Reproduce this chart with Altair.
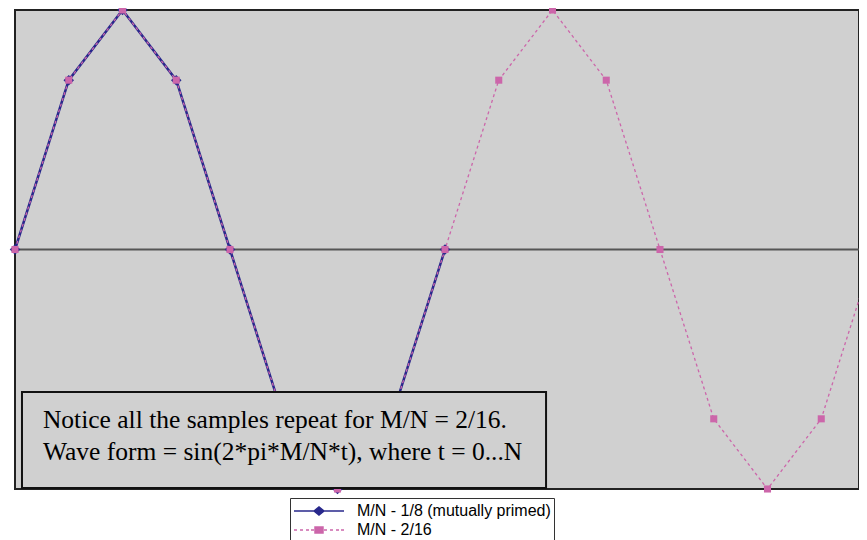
import altair as alt
import pandas as pd

# ---- data ----
t1 = [0, 1, 2, 3, 4, 5, 6, 7, 8]
v1 = [0.0, 0.707, 1.0, 0.707, 0.0, -0.707, -1.0, -0.707, 0.0]
t2 = [0, 1, 2, 3, 4, 5, 6, 7, 8, 9, 10, 11, 12, 13, 14, 15, 16]
v2 = [0.0, 0.707, 1.0, 0.707, 0.0, -0.707, -1.0, -0.707, 0.0,
      0.707, 1.0, 0.707, 0.0, -0.707, -1.0, -0.707, 0.0]
names = ["M/N - 1/8 (mutually primed)", "M/N - 2/16"]
note_lines = ["Notice all the samples repeat for M/N = 2/16.",
              "Wave form = sin(2*pi*M/N*t), where t = 0...N"]

NAVY = "#28288c"
PINK = "#cc66aa"
BG = "#d0d0d0"

df1 = pd.DataFrame({"t": t1, "v": v1, "series": names[0]})
df2 = pd.DataFrame({"t": t2, "v": v2, "series": names[1]})
df = pd.concat([df1, df2], ignore_index=True)
note_df = pd.DataFrame({"note": ["\n".join(note_lines)]})
zero_df = pd.DataFrame({"z": [0]})

PLOT_W = 844
XMAX = PLOT_W / 53.75   # the window cuts the chart just before t = 16

xs = alt.Scale(domain=[0, XMAX], nice=False, zero=False)
ys = alt.Scale(domain=[-1, 1], nice=False, zero=False)
X = alt.X("t:Q", scale=xs, axis=None)
Y = alt.Y("v:Q", scale=ys, axis=None)

zero = alt.Chart(zero_df).mark_rule(color="#555555", strokeWidth=2).encode(
    y=alt.Y("z:Q", scale=ys, axis=None))

line1 = alt.Chart(df1).mark_line(color=NAVY, strokeWidth=2.5).encode(x=X, y=Y)
line2 = alt.Chart(df2).mark_line(color=PINK, strokeWidth=1.3, strokeDash=[3, 3]).encode(x=X, y=Y)
pts1 = alt.Chart(df1).mark_point(shape="diamond", filled=True, size=110, color=NAVY, opacity=1).encode(x=X, y=Y)
pts2 = alt.Chart(df2).mark_point(shape="square", filled=True, size=50, color=PINK, opacity=1).encode(x=X, y=Y)

# legend symbols: line + marker drawn as custom paths
P1 = "M-1,0L4.556,0M1.222,0L1.778,-0.444L2.333,0L1.778,0.444Z"
P2 = ("M-1,0L-0.667,0M-0.333,0L0,0M0.333,0L0.667,0M0.889,0L1.222,0"
      "M1.333,-0.333L2.222,-0.333L2.222,0.333L1.333,0.333Z"
      "M2.333,0L2.667,0M3,0L3.333,0M3.667,0L4,0M4.222,0L4.556,0")

leg_props = dict(title=None, orient="none", legendX=275, legendY=488,
                 fillColor="white", strokeColor="#333333", padding=3,
                 labelFont="Liberation Sans", labelFontSize=16, labelColor="black",
                 labelLimit=0, symbolSize=324, symbolStrokeWidth=1.5,
                 labelOffset=44, rowPadding=1,
                 labelExpr="datum.label + '\u00a0\u00a0\u00a0'")

leg = alt.Chart(df).mark_point(filled=True, opacity=1, strokeWidth=1.5).encode(
    x=X, y=Y,
    color=alt.Color("series:N", scale=alt.Scale(domain=names, range=[NAVY, PINK]),
                    legend=alt.Legend(**leg_props)),
    stroke=alt.Stroke("series:N", scale=alt.Scale(domain=names, range=[NAVY, PINK]),
                      legend=alt.Legend(**leg_props)),
    shape=alt.Shape("series:N", scale=alt.Scale(domain=names, range=[P1, P2]),
                    legend=alt.Legend(**leg_props)),
).transform_filter("datum.t < 0")

box = alt.Chart(note_df).mark_rect(fill=BG, stroke="#111111", strokeWidth=2).encode(
    x=alt.datum(0.13, scale=xs), x2=alt.datum(9.88),
    y=alt.datum(-0.595, scale=ys), y2=alt.datum(-0.996))

note = alt.Chart(note_df).mark_text(
    align="left", baseline="alphabetic", font="Liberation Serif", fontSize=25.5,
    color="black", lineBreak="\n", lineHeight=32).encode(
    x=alt.datum(0.52, scale=xs), y=alt.datum(-0.745, scale=ys), text="note:N")

chart = alt.layer(zero, line1, line2, pts1, pts2, leg, box, note).properties(
    width=PLOT_W, height=479,
    autosize=alt.AutoSizeParams(type="none"),
    padding={"left": 7, "top": 2, "right": 0, "bottom": 51},
).configure_view(stroke="#222222", strokeWidth=2, fill=BG)

chart.save("out.html", embed_options={"renderer": "svg", "actions": False})
